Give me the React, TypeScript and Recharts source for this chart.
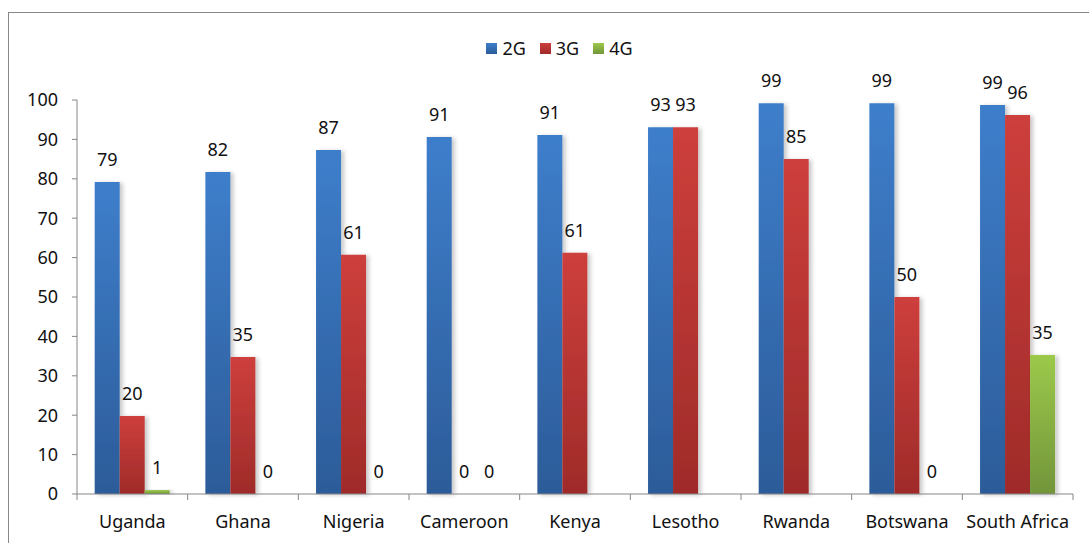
import React from 'react';
import { BarChart, Bar, XAxis, YAxis, Legend, LabelList } from 'recharts';

const countries = ['Uganda', 'Ghana', 'Nigeria', 'Cameroon', 'Kenya', 'Lesotho', 'Rwanda', 'Botswana', 'South Africa'];
const g2 = [79.2, 81.7, 87.3, 90.6, 91.1, 93.1, 99.2, 99.2, 98.7];
const g3 = [19.8, 34.8, 60.7, 0, 61.2, 93.1, 85.0, 50.0, 96.2];
const g4: (number | null)[] = [1.0, 0, 0, 0, null, null, null, 0, 35.3];
const yTicks = [0, 10, 20, 30, 40, 50, 60, 70, 80, 90, 100];

const seriesNames = ['2G', '3G', '4G'];
const seriesKeys = ['g2', 'g3', 'g4'];
const gradTop = ['#3e7ecb', '#cd3f3c', '#9cc94b'];
const gradBottom = ['#2c5c99', '#9f2b29', '#72953a'];

const data = countries.map((c, i) => ({ name: c, g2: g2[i], g3: g3[i], g4: g4[i] }));

const FONT = '"Noto Sans", sans-serif';

const renderLabel = (props: any) => {
  const { x, y, width, value } = props;
  if (value === null || value === undefined) return null;
  return (
    <text x={x + width / 2} y={y - 16} textAnchor="middle" fontFamily={FONT} fontSize={18} fill="#111">
      {Math.round(value)}
    </text>
  );
};

const zeroMin = (value: any) => (value === 0 ? 0.01 : 0);

const CategoryTick = (props: any) => {
  const { x, y, payload, index } = props;
  const off = payload && payload.offset ? payload.offset : 0;
  return (
    <g>
      <line x1={x - off} x2={x - off} y1={y} y2={y + 6} stroke="#868686" strokeWidth={1} />
      {index === countries.length - 1 && (
        <line x1={x + off} x2={x + off} y1={y} y2={y + 6} stroke="#868686" strokeWidth={1} />
      )}
      <text x={x} y={y + 34} textAnchor="middle" fontFamily={FONT} fontSize={18} fill="#111">
        {payload.value}
      </text>
    </g>
  );
};

const LegendContent = () => (
  <div style={{ display: 'flex', justifyContent: 'center', alignItems: 'center', fontFamily: FONT, fontSize: 18, color: '#111', lineHeight: '20px' }}>
    {seriesNames.map((n, i) => (
      <div key={n} style={{ display: 'flex', alignItems: 'center', marginRight: i < 2 ? 14 : 0 }}>
        <span style={{ display: 'inline-block', width: 11, height: 11, marginRight: 5, background: `linear-gradient(${gradTop[i]}, ${gradBottom[i]})` }} />
        <span>{n}</span>
      </div>
    ))}
  </div>
);

export default function App() {
  return (
    <div style={{ position: 'absolute', left: 8, top: 12, width: 1080, height: 530, borderTop: '1px solid #888', borderLeft: '1px solid #888', background: '#fff' }}>
      <BarChart width={1080} height={530} data={data} margin={{ top: 87, right: 16, bottom: 19, left: 0 }} barCategoryGap="16%" barGap={0}>
        <defs>
          {seriesKeys.map((k, i) => (
            <linearGradient key={k} id={`grad-${k}`} x1="0" y1="0" x2="0" y2="1">
              <stop offset="0%" stopColor={gradTop[i]} />
              <stop offset="100%" stopColor={gradBottom[i]} />
            </linearGradient>
          ))}
          <filter id="barShadow" x="-20%" y="-5%" width="150%" height="115%">
            <feDropShadow dx="3" dy="1" stdDeviation="2" floodColor="#000" floodOpacity="0.22" />
          </filter>
        </defs>
        <XAxis
          dataKey="name"
          type="category"
          height={30}
          tickSize={0}
          tickMargin={0}
          tickLine={false}
          interval={0}
          axisLine={{ stroke: '#868686' }}
          tick={<CategoryTick />}
        />
        <YAxis
          width={68}
          domain={[0, 100]}
          ticks={yTicks}
          interval={0}
          tickSize={5}
          tickMargin={14}
          axisLine={{ stroke: '#868686' }}
          tickLine={{ stroke: '#868686' }}
          tick={{ fontFamily: FONT, fontSize: 18, fill: '#111' }}
        />
        <Legend
          verticalAlign="middle"
          align="center"
          layout="horizontal"
          wrapperStyle={{ top: 25, left: 0, width: 1101 }}
          content={<LegendContent />}
        />
        {seriesKeys.map((k, i) => (
          <Bar key={k} dataKey={k} name={seriesNames[i]} fill={`url(#grad-${k})`} filter="url(#barShadow)" minPointSize={zeroMin} isAnimationActive={false}>
            <LabelList dataKey={k} content={renderLabel} />
          </Bar>
        ))}
      </BarChart>
    </div>
  );
}
